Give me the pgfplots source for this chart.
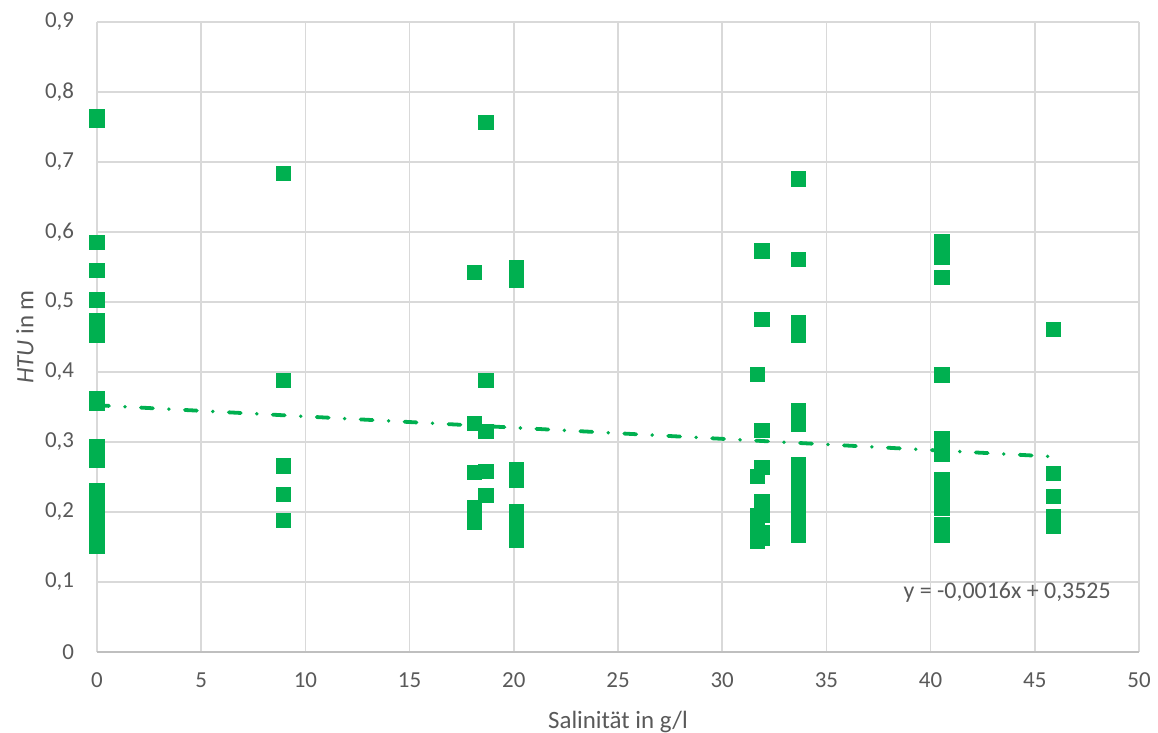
\documentclass[border=0pt]{standalone}
\usepackage{pgfplots}
\pgfplotsset{compat=1.18}
\usepackage{fontspec}
\setmainfont{Carlito}
\definecolor{ptgreen}{HTML}{00B050}
\definecolor{gridgray}{HTML}{D9D9D9}
\definecolor{axisgray}{HTML}{BFBFBF}
\definecolor{txtgray}{HTML}{595959}
\begin{document}
\begin{tikzpicture}
\begin{axis}[
  scale only axis,
  width=521bp, height=315bp,
  xmin=0, xmax=50, ymin=0, ymax=0.9,
  xtick={0,5,...,50},
  ytick={0,0.1,...,0.9},
  grid=major,
  major grid style={color=gridgray, line width=0.75bp},
  axis line style={draw=none},
  major tick length=0pt,
  clip=false,
  tick label style={color=txtgray, font=\fontsize{11.5}{13}\selectfont},
  /pgf/number format/assume math mode=true,
  /pgf/number format/use comma,
  yticklabel style={/pgf/number format/fixed, /pgf/number format/precision=1, anchor=east, xshift=-8bp},
  xticklabel style={yshift=-7bp},
  xlabel={Salinität in g/l},
  ylabel={\textit{HTU} in m},
  label style={color=txtgray, font=\fontsize{12.5}{15}\selectfont},
  xlabel style={at={(axis description cs:0.5,0)}, anchor=center, yshift=-35bp},
  ylabel style={at={(axis description cs:0,0.5)}, anchor=center, yshift=36bp},
]
% bottom axis line
\draw[color=axisgray, line width=0.75bp] (axis cs:0,0) -- (axis cs:50,0);

\addplot[only marks, mark=square*, mark size=3.6bp, color=ptgreen] coordinates {
  (0,0.765) (0,0.760) (0,0.585) (0,0.545) (0,0.503) (0,0.473) (0,0.453)
  (0,0.362) (0,0.356) (0,0.293) (0,0.283) (0,0.274)
  (0,0.231) (0,0.220) (0,0.210) (0,0.200) (0,0.190) (0,0.180) (0,0.170) (0,0.160) (0,0.151)
  (8.93,0.684) (8.93,0.388) (8.93,0.266) (8.93,0.225) (8.93,0.188)
  (18.1,0.542) (18.1,0.327) (18.1,0.257) (18.1,0.207) (18.1,0.195) (18.1,0.186)
  (18.67,0.757) (18.67,0.388) (18.67,0.315) (18.67,0.258) (18.67,0.224)
  (20.13,0.549) (20.13,0.538) (20.13,0.531)
  (20.13,0.260) (20.13,0.252) (20.13,0.245)
  (20.13,0.201) (20.13,0.190) (20.13,0.180) (20.13,0.170) (20.13,0.160)
  (31.7,0.397) (31.7,0.251) (31.7,0.195) (31.7,0.175) (31.7,0.165) (31.7,0.159)
  (31.9,0.573) (31.9,0.475) (31.9,0.317) (31.9,0.264) (31.9,0.215) (31.9,0.205) (31.9,0.195) (31.9,0.170) (31.9,0.162)
  (33.66,0.676) (33.66,0.561) (33.66,0.470) (33.66,0.462) (33.66,0.452)
  (33.66,0.345) (33.66,0.335) (33.66,0.325)
  (33.66,0.268) (33.66,0.255) (33.66,0.240) (33.66,0.225) (33.66,0.210) (33.66,0.195) (33.66,0.180) (33.66,0.167)
  (40.55,0.586) (40.55,0.564) (40.55,0.535) (40.55,0.396)
  (40.55,0.305) (40.55,0.295) (40.55,0.283) (40.55,0.247)
  (40.55,0.225) (40.55,0.215) (40.55,0.205) (40.55,0.182) (40.55,0.167)
  (45.89,0.461) (45.89,0.255) (45.89,0.222) (45.89,0.194) (45.89,0.187) (45.89,0.180)
};

% linear trend line y = -0.0016x + 0.3525
\addplot[color=ptgreen, line width=1.9bp, line cap=round,
  dash pattern=on 6bp off 8bp on 0bp off 8bp] coordinates {
  (0,0.3525) (45.89,0.2791)
};

\node[anchor=east, color=txtgray, font=\fontsize{12}{14}\selectfont, inner sep=0pt]
  at (axis cs:48.66,0.0857) {y = -0,0016x + 0,3525};
\end{axis}
\pgfresetboundingbox
\path (-48.5bp,-40.5bp) rectangle (530.5bp,326bp);
\end{tikzpicture}
\end{document}
